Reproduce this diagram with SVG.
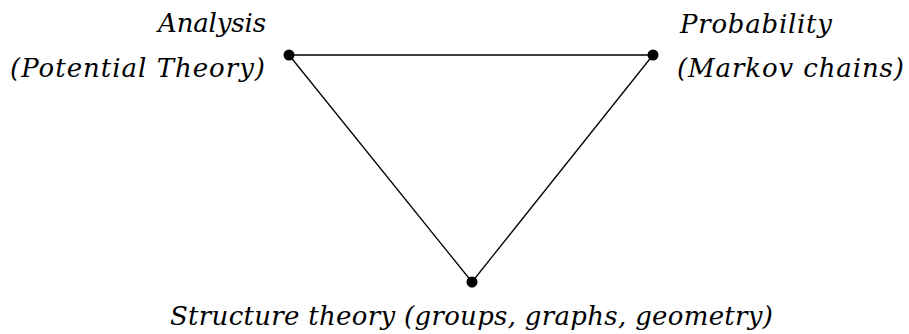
<svg xmlns="http://www.w3.org/2000/svg" width="909" height="334" viewBox="0 0 909 334">
<style>
.t{font-family:'DejaVu Serif','Liberation Serif',serif;font-style:italic;font-size:26px;fill:#000}
.e{stroke:#000;stroke-width:1.3;fill:none}
.d{fill:#000}
</style>
<rect width="909" height="334" fill="#fff"/>
<g id="connectors">
<line class="e" x1="289" y1="55" x2="653" y2="55"/>
<line class="e" x1="289" y1="55" x2="472" y2="282"/>
<line class="e" x1="653" y1="55" x2="472" y2="282"/>
</g>
<g id="analysis">
<circle class="d" cx="289" cy="55" r="5.5"/>
<text class="t" x="158" y="32" textLength="108" lengthAdjust="spacing">Analysis</text>
<text class="t" x="10" y="77" textLength="255" lengthAdjust="spacing">(Potential Theory)</text>
</g>
<g id="probability">
<circle class="d" cx="653" cy="55" r="5.5"/>
<text class="t" x="680" y="33" textLength="152" lengthAdjust="spacing">Probability</text>
<text class="t" x="677" y="77" textLength="227" lengthAdjust="spacing">(Markov chains)</text>
</g>
<g id="structure">
<circle class="d" cx="472" cy="282" r="5.5"/>
<text class="t" x="170" y="325" textLength="603" lengthAdjust="spacing">Structure theory (groups, graphs, geometry)</text>
</g>
</svg>
